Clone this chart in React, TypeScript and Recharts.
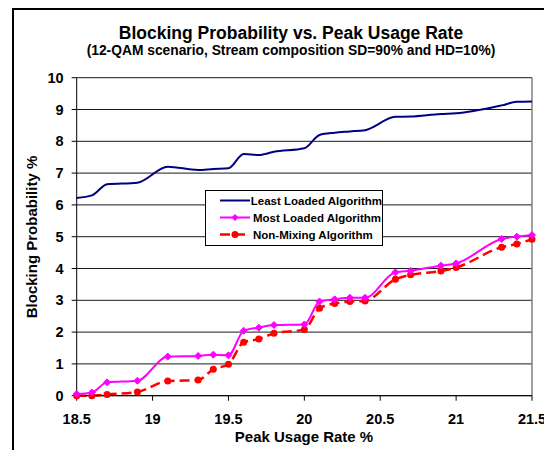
import React from 'react';
import { LineChart, Line, XAxis, YAxis, CartesianGrid, Legend, ReferenceLine } from 'recharts';

const rates = [18.5, 18.6, 18.7, 18.9, 19.1, 19.3, 19.4, 19.5, 19.6, 19.7, 19.8, 20.0, 20.1, 20.2, 20.3, 20.4, 20.6, 20.7, 20.9, 21.0, 21.3, 21.4, 21.5];
const leastLoaded = [6.22, 6.3, 6.65, 6.7, 7.2, 7.1, 7.13, 7.15, 7.6, 7.57, 7.67, 7.78, 8.2, 8.27, 8.31, 8.35, 8.77, 8.78, 8.86, 8.88, 9.13, 9.24, 9.25];
const mostLoaded = [0.05, 0.1, 0.42, 0.47, 1.23, 1.25, 1.29, 1.27, 2.04, 2.14, 2.22, 2.24, 2.96, 3.03, 3.08, 3.08, 3.88, 3.93, 4.09, 4.16, 4.93, 5.0, 5.05];
const nonMixing = [0, 0, 0.04, 0.12, 0.46, 0.49, 0.83, 0.99, 1.68, 1.78, 1.96, 2.08, 2.75, 2.9, 2.96, 2.98, 3.66, 3.8, 3.92, 4.03, 4.67, 4.77, 4.92];

const xTicks = [18.5, 19, 19.5, 20, 20.5, 21, 21.5];
const yTicks = [0, 1, 2, 3, 4, 5, 6, 7, 8, 9, 10];

const seriesNames = ['Least Loaded Algorithm', 'Most Loaded Algorithm', 'Non-Mixing Algorithm'];
const titleText = 'Blocking Probability vs. Peak Usage Rate';
const subtitleText = '(12-QAM scenario, Stream composition SD=90% and HD=10%)';
const xLabel = 'Peak Usage Rate %';
const yLabel = 'Blocking Probability %';

const data = rates.map((r, i) => ({
  rate: r,
  least: leastLoaded[i],
  most: mostLoaded[i],
  non: nonMixing[i],
}));

const FONT = '"Liberation Sans", Arial, sans-serif';
const BLUE = '#000080';
const MAGENTA = '#FF00FF';
const RED = '#FF0000';

const Diamond = (props: any) => {
  const { cx, cy } = props;
  if (cx == null || cy == null) return null;
  const s = 3.5;
  return <path d={`M${cx},${cy - s}L${cx + s},${cy}L${cx},${cy + s}L${cx - s},${cy}Z`} fill={MAGENTA} stroke={MAGENTA} strokeWidth={1} />;
};

const Dot = (props: any) => {
  const { cx, cy } = props;
  if (cx == null || cy == null) return null;
  return <circle cx={cx} cy={cy} r={3.5} fill={RED} stroke="none" />;
};

const LegendBox = () => {
  const row = (i: number) => (
    <div key={i} style={{ display: 'flex', alignItems: 'center', height: 17 }}>
      <svg width={34} height={17} style={{ display: 'block', marginLeft: 12 }}>
        {i === 0 && <line x1={2} y1={8.5} x2={32} y2={8.5} stroke={BLUE} strokeWidth={2} />}
        {i === 1 && (
          <g>
            <line x1={2} y1={8.5} x2={32} y2={8.5} stroke={MAGENTA} strokeWidth={2} />
            <path d="M17,5L20.5,8.5L17,12L13.5,8.5Z" fill={MAGENTA} />
          </g>
        )}
        {i === 2 && (
          <g>
            <line x1={2} y1={8.5} x2={32} y2={8.5} stroke={RED} strokeWidth={2.5} strokeDasharray="10 5" />
            <circle cx={17} cy={8.5} r={3.5} fill={RED} />
          </g>
        )}
      </svg>
      <span style={{ marginLeft: 1, color: '#000', whiteSpace: 'nowrap' }}>{seriesNames[i]}</span>
    </div>
  );
  return (
    <div
      style={{
        width: 178,
        height: 56,
        boxSizing: 'border-box',
        border: '1.5px solid #000',
        background: '#fff',
        fontFamily: FONT,
        fontWeight: 'bold',
        fontSize: 11.5,
        paddingTop: 1,
      }}
    >
      {[0, 1, 2].map(row)}
    </div>
  );
};

export default function App() {
  const W = 544;
  const H = 442;
  return (
    <div style={{ position: 'relative', width: W, height: H }}>
      <div
        style={{
          position: 'absolute',
          left: 4,
          top: 0,
          width: W,
          height: H,
          borderTop: '2px solid #000',
          borderLeft: '2px solid #000',
          boxSizing: 'border-box',
        }}
      />
      <LineChart
        width={W}
        height={H}
        data={data}
        margin={{ top: 69.7, right: 20, bottom: 24.3, left: 38.7 }}
        style={{ position: 'absolute', left: 0, top: 0 }}
      >
        <CartesianGrid vertical={false} stroke="#000" strokeOpacity={0.9} />
        <ReferenceLine x={21.5} stroke="#808080" strokeWidth={1.5} ifOverflow="extendDomain" />
        <XAxis
          dataKey="rate"
          type="number"
          domain={[18.5, 21.5]}
          ticks={xTicks}
          height={30}
          tickSize={5}
          tickMargin={13}
          stroke="#000"
          axisLine={{ stroke: '#000' }}
          tickLine={{ stroke: '#000' }}
          tick={{ fill: '#000', fontSize: 14.5, fontWeight: 'bold', fontFamily: FONT }}
          interval={0}
        />
        <YAxis
          type="number"
          domain={[0, 10]}
          ticks={yTicks}
          width={30}
          tickSize={5}
          tickMargin={8}
          axisLine={{ stroke: '#000' }}
          tickLine={{ stroke: '#000' }}
          tick={{ fill: '#000', fontSize: 14.5, fontWeight: 'bold', fontFamily: FONT }}
          interval={0}
        />
        <Legend
          layout="vertical"
          align="center"
          verticalAlign="middle"
          content={<LegendBox />}
          wrapperStyle={{ left: 197, top: 182, width: 178, height: 56 }}
        />
        <Line
          type="monotone"
          dataKey="least"
          name={seriesNames[0]}
          stroke={BLUE}
          strokeWidth={2}
          dot={false}
          isAnimationActive={false}
        />
        <Line
          type="monotone"
          dataKey="non"
          name={seriesNames[2]}
          stroke={RED}
          strokeWidth={2.5}
          strokeDasharray="10 5"
          dot={<Dot />}
          isAnimationActive={false}
        />
        <Line
          type="monotone"
          dataKey="most"
          name={seriesNames[1]}
          stroke={MAGENTA}
          strokeWidth={2}
          dot={<Diamond />}
          isAnimationActive={false}
        />
      </LineChart>
      <svg
        width={W}
        height={H}
        style={{ position: 'absolute', left: 0, top: 0, pointerEvents: 'none' }}
      >
        <text x={283} y={31} textAnchor="middle" fontFamily={FONT} fontWeight="bold" fontSize={17.5} fill="#000">
          {titleText}
        </text>
        <text x={283} y={46.5} textAnchor="middle" fontFamily={FONT} fontWeight="bold" fontSize={13.8} fill="#000">
          {subtitleText}
        </text>
        <text x={296} y={434} textAnchor="middle" fontFamily={FONT} fontWeight="bold" fontSize={15} fill="#000">
          {xLabel}
        </text>
        <text
          x={29}
          y={229}
          textAnchor="middle"
          fontFamily={FONT}
          fontWeight="bold"
          fontSize={15}
          fill="#000"
          transform="rotate(-90 29 229)"
        >
          {yLabel}
        </text>
      </svg>
    </div>
  );
}
